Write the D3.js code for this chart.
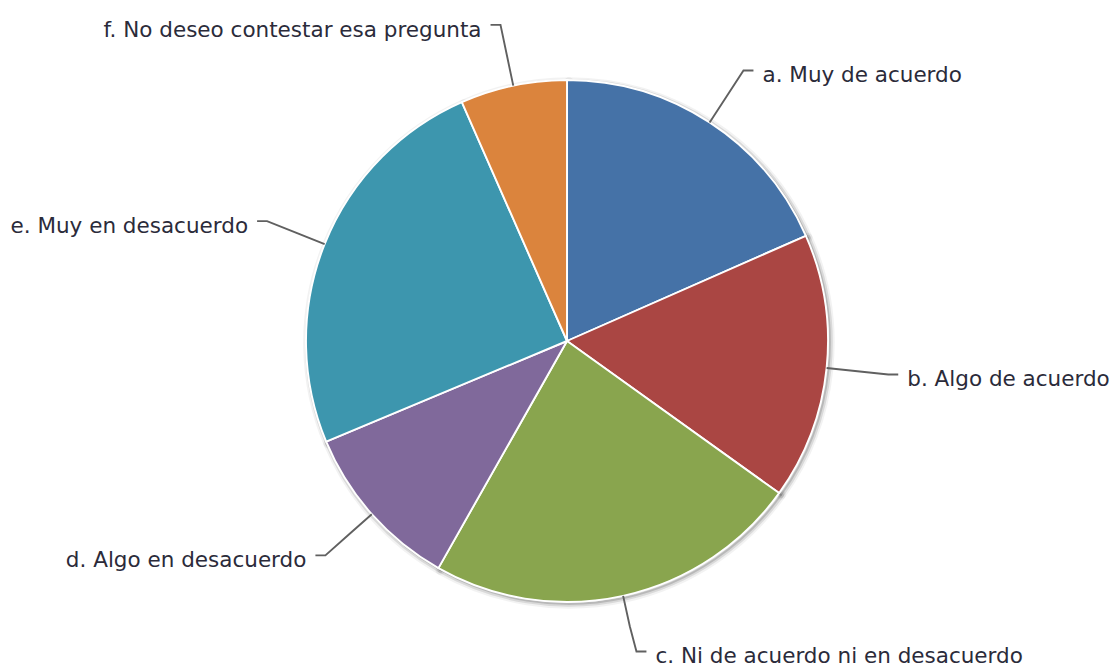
<!DOCTYPE html>
<html>
<head>
<meta charset="utf-8">
<script src="https://cdn.jsdelivr.net/npm/d3@7"></script>
<style>
  html, body { margin: 0; padding: 0; background: #fff; }
  svg { display: block; }
</style>
</head>
<body>
<svg id="chart" width="1118" height="671"></svg>
<script>
const categories = [
  "a. Muy de acuerdo",
  "b. Algo de acuerdo",
  "c. Ni de acuerdo ni en desacuerdo",
  "d. Algo en desacuerdo",
  "e. Muy en desacuerdo",
  "f. No deseo contestar esa pregunta"
];
const values = [18.4, 16.5, 23.3, 10.5, 24.7, 6.6];
const colors = ["#4572A7", "#AA4643", "#89A54E", "#80699B", "#3D96AE", "#DB843D"];

const W = 1118, H = 671;
const cx = 567, cy = 341, R = 261;
const s = 1.9;               // scale of the original rendering
const labelDist = 62;        // distance of labels outside pie
const padding = 5 * s;

const svg = d3.select("#chart");
const data = categories.map((c, i) => ({ name: c, value: values[i], color: colors[i] }));

const pie = d3.pie().sort(null).value(d => d.value).startAngle(0).endAngle(2 * Math.PI);
const arcs = pie(data);
const arc = d3.arc().innerRadius(0).outerRadius(R);

const g = svg.append("g").attr("transform", `translate(${cx},${cy})`);

// shadow (Highcharts style)
const shadowG = g.append("g").attr("transform", `translate(${1 * s},${1 * s})`);
[[5, 0.05], [3, 0.1], [1, 0.15]].forEach(([w, o]) => {
  shadowG.selectAll(null).data(arcs).join("path")
    .attr("d", arc)
    .attr("fill", "none")
    .attr("stroke", "#000")
    .attr("stroke-opacity", o)
    .attr("stroke-width", w * s)
    .attr("stroke-linejoin", "round");
});

g.selectAll("path.slice").data(arcs).join("path")
  .attr("class", "slice")
  .attr("d", arc)
  .attr("fill", d => d.data.color)
  .attr("stroke", "#fff")
  .attr("stroke-width", 1 * s)
  .attr("stroke-linejoin", "round");

// labels & connectors
const RD = R + labelDist;
const labelsG = svg.append("g");
arcs.forEach(a => {
  const mid = (a.startAngle + a.endAngle) / 2;
  const sinA = Math.sin(mid), cosA = Math.cos(mid);
  const right = sinA >= 0;
  const ly0 = cy - RD * cosA;
  const dyn = Math.max(-1, Math.min(1, (ly0 - cy) / RD));
  const lx = cx + (right ? 1 : -1) * Math.cos(Math.asin(dyn)) * RD;
  const ly = Math.min(ly0, H - 19.5);   // keep label inside the chart
  const bx = cx + (R + labelDist / 2) * sinA, by = cy - (R + labelDist / 2) * cosA;
  const ex = cx + R * sinA, ey = cy - R * cosA;
  const path = d3.path();
  path.moveTo(lx + (right ? padding * 1.05 : -padding * 1.05), ly);
  path.lineTo(lx, ly);
  path.lineTo(bx, by);
  path.lineTo(ex, ey);
  labelsG.append("path")
    .attr("d", path.toString())
    .attr("fill", "none")
    .attr("stroke", "#606060")
    .attr("stroke-width", 1 * s);
  labelsG.append("text")
    .attr("x", lx + (right ? 19 : -19))
    .attr("y", ly + 11.6)
    .attr("text-anchor", right ? "start" : "end")
    .attr("font-family", "'DejaVu Sans', Verdana, sans-serif")
    .attr("font-size", "21.5px")
    .attr("fill", "#2b2b3a")
    .text(a.data.name);
});
</script>
</body>
</html>
